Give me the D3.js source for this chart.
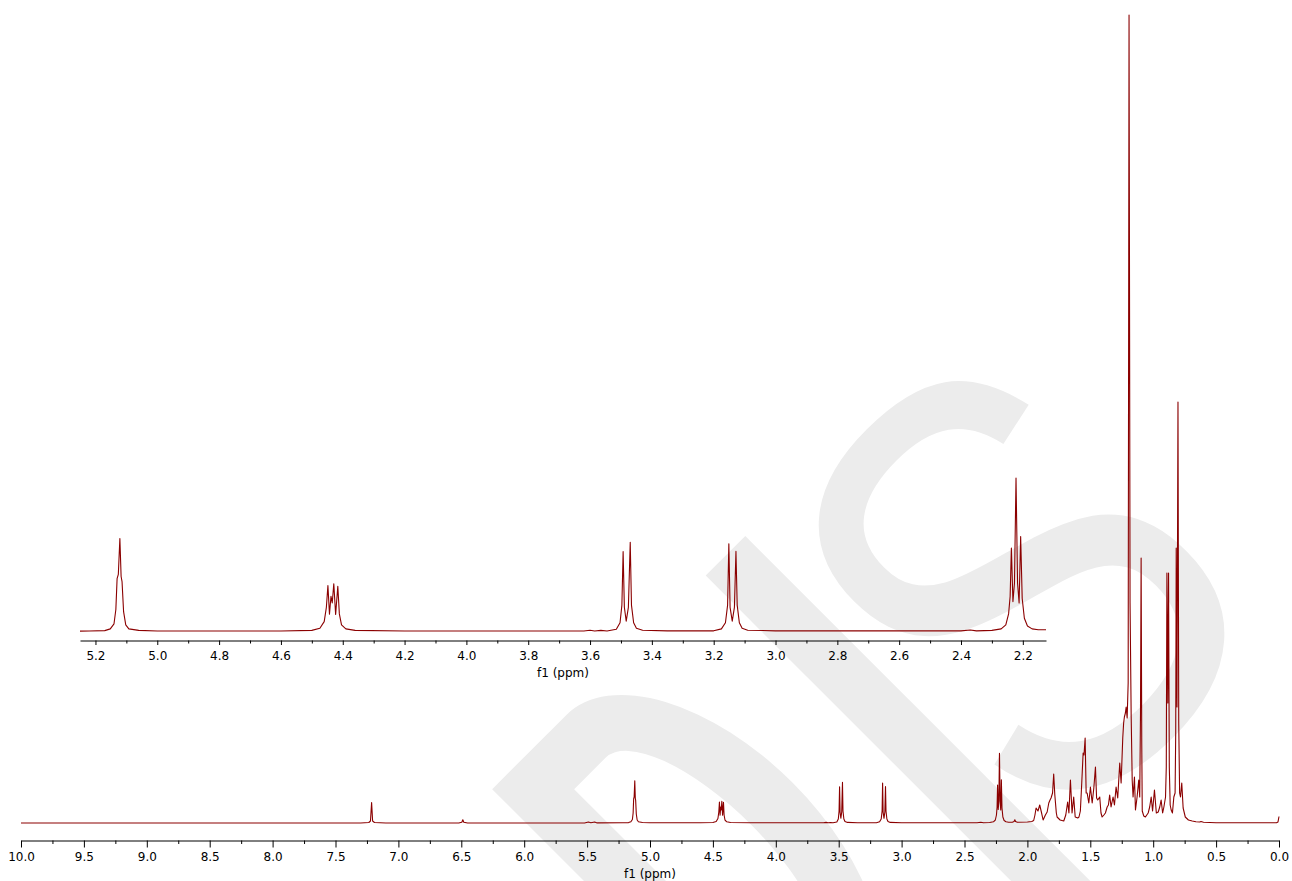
<!DOCTYPE html>
<html>
<head>
<meta charset="utf-8">
<script src="https://cdn.jsdelivr.net/npm/d3@7"></script>
<style>
  html, body { margin: 0; padding: 0; background: #fff; }
  svg { display: block; }
</style>
</head>
<body>
<svg id="chart"></svg>
<script>
// 1H spectrum: chemical shift (ppm) and height
const shift = [
  10.00, 7.30, 7.235, 7.222, 7.213, 7.205, 7.19, 7.10,
  6.52, 6.496, 6.488, 6.480, 6.45,
  5.52, 5.49, 5.47, 5.44, 5.42, 5.22, 5.17, 5.152, 5.140, 5.134,
  5.130, 5.126, 5.121, 5.117, 5.114, 5.109, 5.102, 5.092, 5.06, 5.00,
  4.60, 4.50, 4.474, 4.460, 4.453, 4.448, 4.443, 4.438, 4.434, 4.429,
  4.423, 4.416, 4.411, 4.404, 4.39, 4.36, 4.20,
  3.62, 3.60, 3.585, 3.565, 3.545, 3.515, 3.503, 3.497, 3.493, 3.489,
  3.483, 3.476, 3.470, 3.466, 3.459, 3.450, 3.43, 3.35,
  3.20, 3.175, 3.162, 3.155, 3.151, 3.147, 3.140, 3.133, 3.128, 3.124,
  3.117, 3.108, 3.09, 3.00,
  2.40, 2.37, 2.35, 2.30, 2.27, 2.255, 2.246, 2.241, 2.237, 2.232,
  2.227, 2.222, 2.217, 2.212, 2.207, 2.202, 2.195, 2.185, 2.17, 2.15,
  2.12, 2.106, 2.100, 2.094, 2.08, 2.00,
  1.965, 1.950, 1.940, 1.931, 1.916, 1.902, 1.889, 1.875, 1.857, 1.843,
  1.830, 1.820, 1.812, 1.800, 1.791, 1.782, 1.770, 1.764, 1.740, 1.711,
  1.695, 1.680, 1.670, 1.658, 1.645, 1.632, 1.620, 1.600, 1.590, 1.579,
  1.568, 1.557, 1.550, 1.541, 1.533, 1.525, 1.512, 1.499, 1.485, 1.472,
  1.459, 1.450, 1.441, 1.425, 1.415, 1.406, 1.392, 1.380, 1.366, 1.356,
  1.346, 1.335, 1.319, 1.308, 1.295, 1.282, 1.266, 1.255, 1.242, 1.235,
  1.229, 1.221, 1.215, 1.207, 1.199, 1.192, 1.184, 1.175, 1.167, 1.160,
  1.149, 1.141, 1.128, 1.115, 1.107, 1.101, 1.096, 1.091, 1.087, 1.075,
  1.062, 1.040, 1.028, 1.016, 1.005, 0.990, 0.975, 0.960, 0.948, 0.937,
  0.925, 0.915, 0.902, 0.896, 0.891, 0.884, 0.878, 0.872, 0.865, 0.857,
  0.847, 0.836, 0.826, 0.821, 0.817, 0.811, 0.803, 0.797, 0.790, 0.783,
  0.773, 0.762, 0.745, 0.720, 0.690, 0.660, 0.630, 0.620, 0.600, 0.500,
  0.300, 0.020, 0.008, 0.000
];
const intensity = [
  0, 0, 0.5, 2, 20.5, 2, 0.5, 0,
  0, 0.8, 3.3, 0.8, 0,
  0, 1, 0.3, 1, 0.1, 0.2, 0.4, 1.2, 3.5, 10,
  24, 26, 42.3, 25, 22.7, 9, 3, 1.2, 0.5, 0.2,
  0.2, 0.5, 1.5, 4.5, 11, 20.9, 7.9, 16, 13, 21.7,
  7.7, 20.6, 8, 3, 1.2, 0.5, 0.2,
  0.2, 0.6, 0.2, 0.5, 0.2, 1, 4, 12, 36.3, 11,
  4.7, 11, 40.6, 12, 4, 1.5, 0.6, 0.3,
  0.3, 1.2, 4, 12, 39.9, 11, 4.7, 11, 36.4, 12,
  4, 1.5, 0.6, 0.3,
  0.3, 0.7, 0.3, 0.5, 1.2, 3, 8, 16, 37.9, 13.6,
  22, 69.8, 22, 13, 43.2, 15, 6, 2.5, 1.2, 0.8,
  0.8, 1.5, 3.3, 1.5, 0.8, 1,
  1.5, 2.5, 8, 15, 12, 18, 11, 3, 8, 11,
  20, 23, 25, 30, 49, 28, 10, 6, 3, 2,
  8, 21, 10, 43, 10, 26, 6, 5, 6, 12,
  40, 70, 68, 85, 30, 30, 20, 36, 20, 35,
  56, 25, 23, 26, 10, 6, 8, 10, 16, 18,
  28, 16, 26, 18, 36, 25, 60, 40, 85, 100,
  106, 110, 116, 105, 140, 808, 220, 106, 43, 26,
  46, 13, 26, 43, 26, 110, 265, 80, 12, 7,
  6, 10, 16, 26, 12, 33, 10, 11, 16, 23,
  10, 16, 26, 56, 250, 120, 250, 56, 18, 13,
  10, 26, 30, 90, 275, 116, 421, 100, 30, 26,
  40, 15, 6, 3, 2, 1.3, 1, 1.5, 0.8, 0.3,
  0.2, 0.2, 1, 6.5
];

const mainTicks = [10.0, 9.5, 9.0, 8.5, 8.0, 7.5, 7.0, 6.5, 6.0, 5.5, 5.0, 4.5, 4.0, 3.5, 3.0, 2.5, 2.0, 1.5, 1.0, 0.5, 0.0];
const mainMinor = [9.75, 9.25, 8.75, 8.25, 7.75, 7.25, 6.75, 6.25, 5.75, 5.25, 4.75, 4.25, 3.75, 3.25, 2.75, 2.25, 1.75, 1.25, 0.75, 0.25];
const insetTicks = [5.2, 5.0, 4.8, 4.6, 4.4, 4.2, 4.0, 3.8, 3.6, 3.4, 3.2, 3.0, 2.8, 2.6, 2.4, 2.2];
const insetMinor = [5.1, 4.9, 4.7, 4.5, 4.3, 4.1, 3.9, 3.7, 3.5, 3.3, 3.1, 2.9, 2.7, 2.5, 2.3];
const insetRange = [5.25, 2.125];
const axisTitle = 'f1 (ppm)';

const W = 1292, H = 881;
const red = '#8b0000';
const font = '"DejaVu Sans", Verdana, sans-serif';

const svg = d3.select('#chart').attr('width', W).attr('height', H);

// ---- light grey watermark behind the plot, letters tilted 45 deg ----
const wm = svg.append('g').attr('transform', 'rotate(-45)').attr('fill', '#ececec');
// D: stem plus bowl, counter cut out
wm.append('path')
  .attr('fill-rule', 'evenodd')
  .attr('d', 'M-210,906 H-105 A112,208 0 0 1 -105,1322 H-210 Z ' +
             'M-152,964 H-108 A56,150 0 0 1 -108,1264 H-152 Z');
// I
wm.append('rect').attr('x', 92).attr('y', 906).attr('width', 56).attr('height', 560);
// S
wm.append('text')
  .attr('transform', 'translate(140,1345) scale(0.86,1.06)')
  .attr('font-family', '"Liberation Sans", Arial, sans-serif')
  .attr('font-size', 579)
  .text('S');

const spectrum = shift.map((s, i) => ({ s: s, v: intensity[i] }));

// draw one axis: minor ticks, then major ticks with labels
function drawAxis(scale, yPos, major, minor, bigTick, smallTick, pad) {
  const g = svg.append('g').attr('transform', `translate(0,${yPos})`);
  g.append('g')
    .call(d3.axisBottom(scale).tickValues(minor).tickSize(smallTick).tickFormat('').tickSizeOuter(0))
    .call(a => a.select('.domain').remove());
  g.append('g')
    .call(d3.axisBottom(scale).tickValues(major).tickSize(bigTick).tickPadding(pad)
      .tickFormat(d3.format('.1f')).tickSizeOuter(0))
    .attr('font-family', font)
    .attr('font-size', 12);
  g.selectAll('line, path').attr('stroke', '#000');
  g.selectAll('text').attr('fill', '#000');
  return g;
}

// ---- main spectrum ----
const x = d3.scaleLinear().domain([10, 0]).range([21, 1279]);
const y = d3.scaleLinear().domain([0, 808]).range([823, 15]);

const line = d3.line().x(d => x(d.s)).y(d => y(d.v));

svg.append('path')
  .datum(spectrum)
  .attr('d', line)
  .attr('fill', 'none')
  .attr('stroke', red)
  .attr('stroke-width', 1.1)
  .attr('stroke-linejoin', 'round');

drawAxis(x, 840.5, mainTicks, mainMinor, 7, 3.5, 5);

svg.append('text')
  .attr('x', (x.range()[0] + x.range()[1]) / 2)
  .attr('y', 878)
  .attr('text-anchor', 'middle')
  .attr('font-family', font)
  .attr('font-size', 12)
  .text(axisTitle);

// ---- inset: 5.25 - 2.125 ppm ----
const xi = d3.scaleLinear().domain(insetRange).range([80, 1046]);
const yi = d3.scaleLinear().domain([0, 100]).range([631.5, 411.5]);

svg.append('clipPath').attr('id', 'insetClip')
  .append('rect')
  .attr('x', xi.range()[0]).attr('y', 0)
  .attr('width', xi.range()[1] - xi.range()[0]).attr('height', 640);

const insetLine = d3.line().x(d => xi(d.s)).y(d => yi(d.v));

svg.append('path')
  .datum(spectrum.filter(d => d.s <= 5.5 && d.s >= 2.0))
  .attr('d', insetLine)
  .attr('clip-path', 'url(#insetClip)')
  .attr('fill', 'none')
  .attr('stroke', red)
  .attr('stroke-width', 1.1)
  .attr('stroke-linejoin', 'round');

drawAxis(xi, 640.5, insetTicks, insetMinor, 4.5, 3, 6);

svg.append('text')
  .attr('x', (xi.range()[0] + xi.range()[1]) / 2)
  .attr('y', 677)
  .attr('text-anchor', 'middle')
  .attr('font-family', font)
  .attr('font-size', 12)
  .text(axisTitle);
</script>
</body>
</html>
